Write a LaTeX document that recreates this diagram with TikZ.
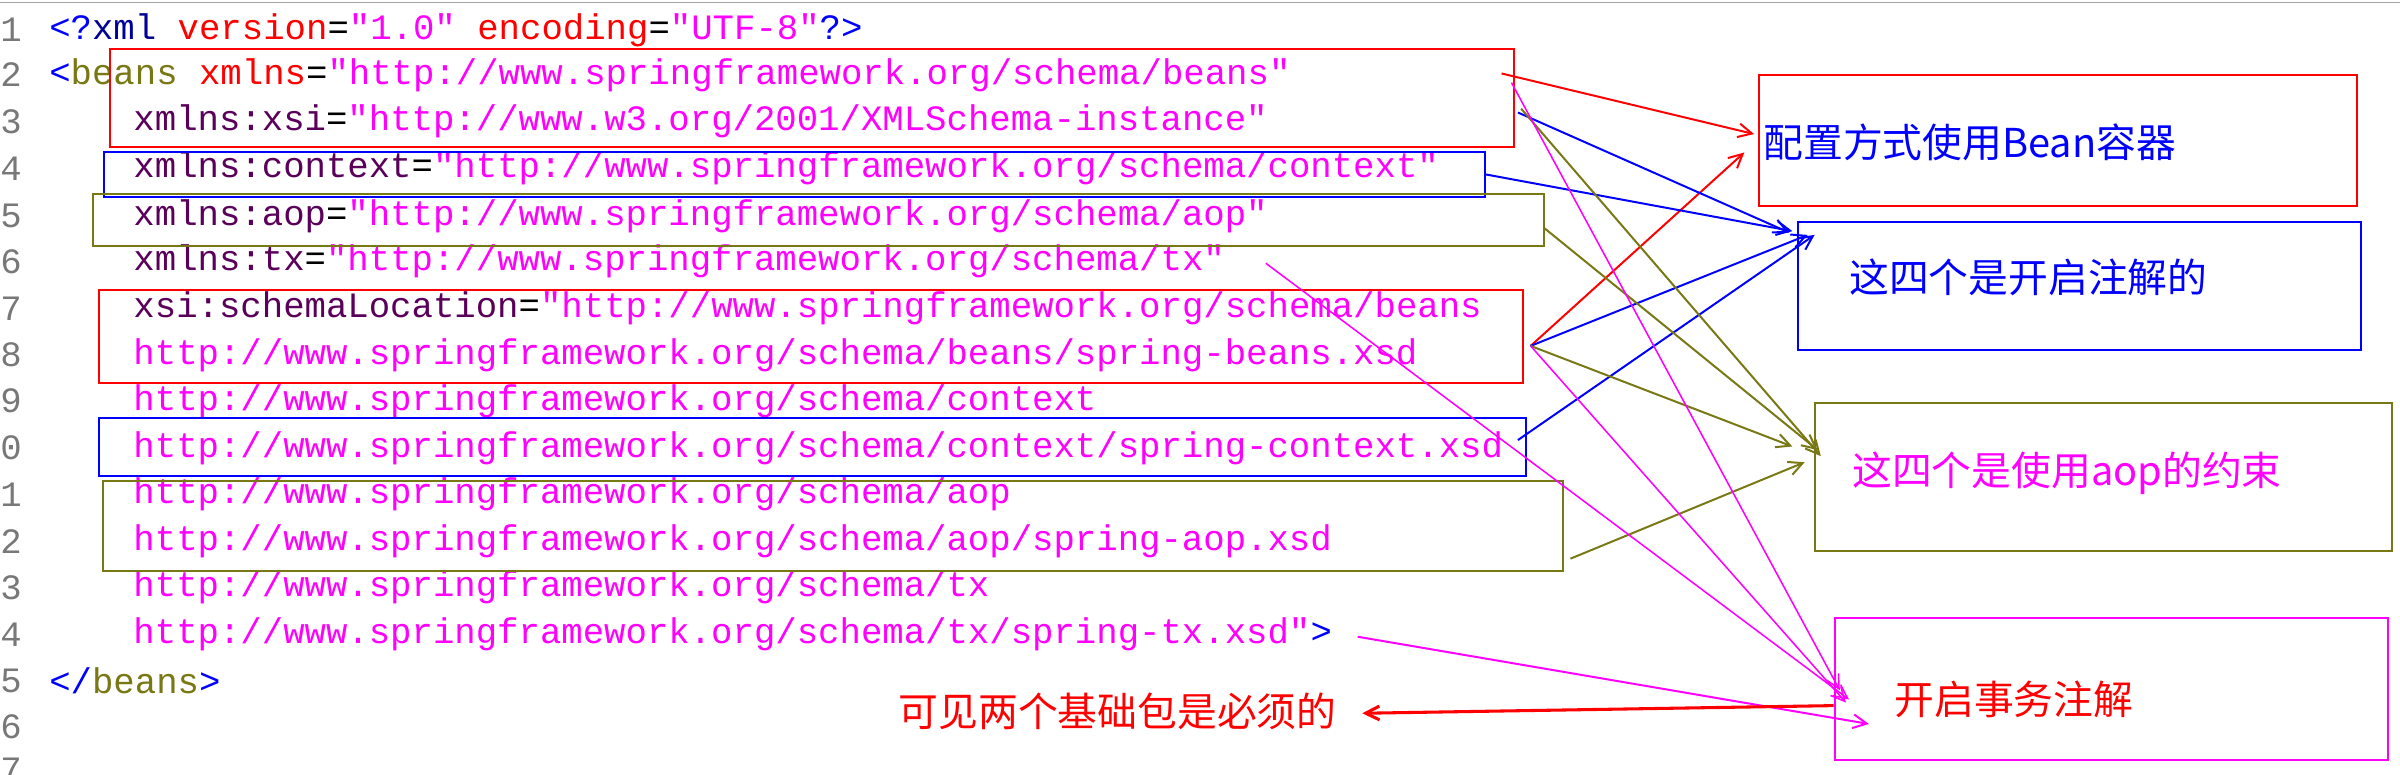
\documentclass[tikz,border=0pt]{standalone}
\usepackage{fontspec}
\setmonofont{Liberation Mono}
\newfontfamily\cjk{Noto Sans CJK SC}
\usetikzlibrary{arrows.meta}
\definecolor{mag}{RGB}{255,0,255}
\definecolor{oli}{RGB}{120,120,20}
\definecolor{pur}{RGB}{90,0,90}
\definecolor{dblue}{RGB}{0,0,150}
\definecolor{lnum}{RGB}{120,120,120}
\newcommand{\cM}[1]{\textcolor{mag}{#1}}
\newcommand{\cP}[1]{\textcolor{pur}{#1}}
\newcommand{\cB}[1]{\textcolor{blue}{#1}}
\tikzset{
 code/.style={anchor=west,inner sep=0pt,font=\ttfamily\fontsize{23.3}{23.3}\selectfont},
 lno/.style={anchor=west,inner sep=0pt,text=lnum,font=\ttfamily\fontsize{23.3}{23.3}\selectfont},
 hbox/.style={draw=#1,line width=1.3pt,inner sep=0pt},
 note/.style={anchor=west,inner sep=0pt,font=\cjk\fontsize{26}{26}\selectfont},
 arr/.style={draw=#1,line width=1.3pt,-{Straight Barb[length=9pt,width=9pt]}}
}
\begin{document}
\begin{tikzpicture}[x=1pt,y=-1pt]
\useasboundingbox[fill=white] (0,0) rectangle (1568,505.7);
\draw[gray!70,line width=1pt] (0,1.5) -- (1568,1.5);
% line numbers
\foreach \n/\y in {1/19.6,2/49,3/79.5,4/110,5/141,6/171,7/201.5,8/232,9/262,0/292.6,1/323,2/353.6,3/384,4/414.6,5/445,6/474.5,7/503}
  \node[lno] at (0,\y) {\n};
% code
\node[code] (l1) at (32,19.6) {\cB{<?}\textcolor{dblue}{xml} \textcolor{red}{version}=\cM{"1.0"} \textcolor{red}{encoding}=\cM{"UTF-8"}\cB{?>}};
\node[code] (l2) at (32,49) {\cB{<}\textcolor{oli}{beans} \textcolor{red}{xmlns}=\cM{"http://www.springframework.org/schema/beans"}};
\node[code] (l3) at (87,79.5) {\cP{xmlns:xsi}=\cM{"http://www.w3.org/2001/XMLSchema-instance"}};
\node[code] (l4) at (87,110) {\cP{xmlns:context}=\cM{"http://www.springframework.org/schema/context"}};
\node[code] (l5) at (87,141) {\cP{xmlns:aop}=\cM{"http://www.springframework.org/schema/aop"}};
\node[code] (l6) at (87,171) {\cP{xmlns:tx}=\cM{"http://www.springframework.org/schema/tx"}};
\node[code] (l7) at (87,201.5) {\cP{xsi:schemaLocation}=\cM{"http://www.springframework.org/schema/beans}};
\node[code] (l8) at (87,232) {\cM{http://www.springframework.org/schema/beans/spring-beans.xsd}};
\node[code] (l9) at (87,262) {\cM{http://www.springframework.org/schema/context}};
\node[code] (l10) at (87,292.6) {\cM{http://www.springframework.org/schema/context/spring-context.xsd}};
\node[code] (l11) at (87,323) {\cM{http://www.springframework.org/schema/aop}};
\node[code] (l12) at (87,353.6) {\cM{http://www.springframework.org/schema/aop/spring-aop.xsd}};
\node[code] (l13) at (87,384) {\cM{http://www.springframework.org/schema/tx}};
\node[code] (l14) at (87,414.6) {\cM{http://www.springframework.org/schema/tx/spring-tx.xsd"}\cB{>}};
\node[code] (l15) at (32,445) {\cB{</}\textcolor{oli}{beans}\cB{>}};
% boxes on code
\node[hbox=red,minimum width=917pt,minimum height=64pt] (rb1) at (530.5,64) {};
\node[hbox=blue,minimum width=902pt,minimum height=29.5pt] (bb1) at (519,113.8) {};
\node[hbox=oli,minimum width=948pt,minimum height=34pt] (ob1) at (535,144) {};
\node[hbox=red,minimum width=930pt,minimum height=61pt] (rb2) at (530,220) {};
\node[hbox=blue,minimum width=932pt,minimum height=38pt] (bb2) at (531,292) {};
\node[hbox=oli,minimum width=954pt,minimum height=58.6pt] (ob2) at (544,343.7) {};
% right boxes
\node[hbox=red,minimum width=390.6pt,minimum height=85.6pt] (bean) at (1344.3,91.8) {};
\node[note,text=blue] (tbean) at (1152,93) {配置方式使用Bean容器};
\node[hbox=blue,minimum width=367.6pt,minimum height=83.7pt] (anno) at (1358.8,186.9) {};
\node[note,text=blue] (tanno) at (1208,181) {这四个是开启注解的};
\node[hbox=oli,minimum width=376.6pt,minimum height=96.4pt] (aop) at (1374.3,311.8) {};
\node[note,text=mag] (taop) at (1210,309) {这四个是使用aop的约束};
\node[hbox=mag,minimum width=361pt,minimum height=92.6pt] (tx) at (1379.5,450.3) {};
\node[note,text=red] (ttx) at (1237.5,457) {开启事务注解};
\node[note,text=red] (tbase) at (587,465) {可见两个基础包是必须的};
% connector endpoints
\coordinate (s1) at (981,48); \coordinate (s2) at (1000,226);
\coordinate (b1) at (991.7,73.5); \coordinate (b2) at (970.9,114); \coordinate (b4) at (991.7,287.5);
\coordinate (o1) at (993.8,71); \coordinate (o2) at (1008.4,148.6); \coordinate (o4) at (1026,365);
\coordinate (m1) at (987.5,54); \coordinate (m3) at (827,172); \coordinate (m4) at (887,416);
\coordinate (e1) at (1146,87.6); \coordinate (e2) at (1139.6,99.6);
\coordinate (ea) at (1169,152); \coordinate (eb) at (1171,151); \coordinate (ec) at (1181,153.5); \coordinate (ed) at (1185.5,153.5);
\coordinate (fa) at (1189.6,298); \coordinate (fb) at (1187.5,294); \coordinate (fc) at (1171,291.7); \coordinate (fd) at (1179,302);
\coordinate (ga) at (1202,451); \coordinate (gb) at (1206,459); \coordinate (gc) at (1208,457); \coordinate (gd) at (1221,473);
\coordinate (h0) at (1198,461); \coordinate (h1) at (890,466);
% connectors
\draw[arr=red] (s1) -- (e1);
\draw[arr=red] (s2) -- (e2);
\draw[arr=blue] (b1) -- (ea);
\draw[arr=blue] (b2) -- (eb);
\draw[arr=blue] (s2) -- (ec);
\draw[arr=blue] (b4) -- (ed);
\draw[arr=oli] (o1) -- (fa);
\draw[arr=oli] (o2) -- (fb);
\draw[arr=oli] (s2) -- (fc);
\draw[arr=oli] (o4) -- (fd);
\draw[arr=mag,line width=1pt] (m1) -- (ga);
\draw[arr=mag,line width=1pt] (s2) -- (gb);
\draw[arr=mag,line width=1pt] (m3) -- (gc);
\draw[arr=mag,line width=1.3pt] (m4) -- (gd);
\draw[arr=red,line width=2pt] (h0) -- (h1);
\end{tikzpicture}
\end{document}
